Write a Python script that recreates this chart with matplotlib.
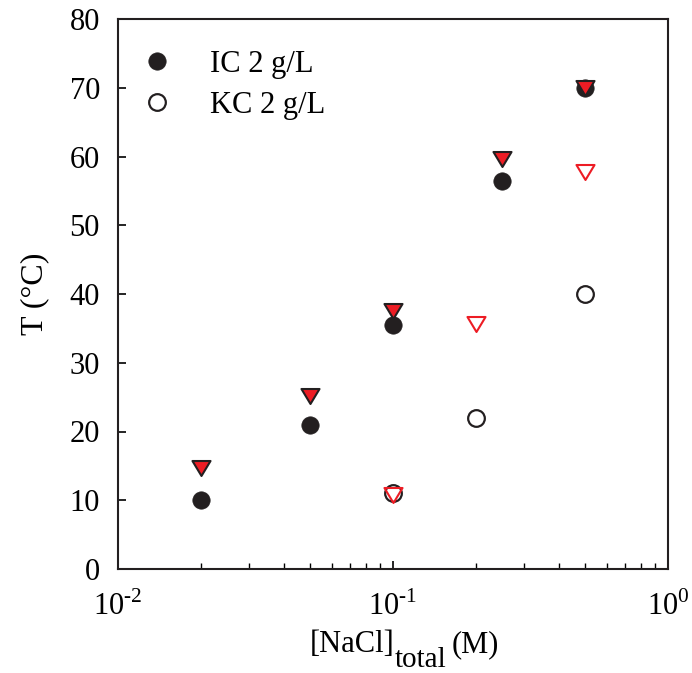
import matplotlib
matplotlib.use("Agg")
import matplotlib.pyplot as plt
from matplotlib.ticker import LogLocator, NullFormatter
from matplotlib.path import Path

plt.rcParams['font.family'] = ['Liberation Serif', 'DejaVu Serif']
plt.rcParams['mathtext.fontset'] = 'custom'
plt.rcParams['mathtext.rm'] = 'Liberation Serif'

# IC 2 g/L
ic_x = [0.02, 0.05, 0.1, 0.25, 0.5]
ic_circle = [10, 21, 35.5, 56.5, 70]
ic_triangle = [14.7, 25.2, 37.6, 59.7, 70]
# KC 2 g/L
kc_x = [0.1, 0.2, 0.5]
kc_circle = [11, 22, 40]
kc_triangle = [10.8, 35.7, 57.7]

xtick_vals = [1e-2, 1e-1, 1e0]
xtick_labels = ['10$^{\\mathregular{\u20102}}$', '10$^{\\mathregular{\u20101}}$', '10$^{\\mathregular{0}}$']
ytick_vals = list(range(0, 81, 10))

BLACK = '#231f20'
RED = '#ed1c24'

tri = Path([(-1, 0.83), (1, 0.83), (0, -0.83), (-1, 0.83)],
           [Path.MOVETO, Path.LINETO, Path.LINETO, Path.CLOSEPOLY])

W, H = 692, 673
fig = plt.figure(figsize=(W / 100, H / 100), dpi=100)
ax = fig.add_axes([118 / W, 1 - 569 / H, (668 - 118) / W, (569 - 19) / H])

ax.plot(ic_x, ic_circle, 'o', ms=12.5, mfc=BLACK, mec=BLACK, mew=0.5, ls='none',
        label='IC 2 g/L', zorder=3)
ax.plot(kc_x, kc_circle, 'o', ms=12, mfc='none', mec=BLACK, mew=1.6, ls='none',
        label='KC 2 g/L', zorder=3)
ax.plot(ic_x, ic_triangle, marker=tri, ms=13, mfc=RED, mec=BLACK, mew=1.5, ls='none', zorder=4)
ax.plot(kc_x, kc_triangle, marker=tri, ms=13, mfc='none', mec=RED, mew=1.5, ls='none', zorder=4)

ax.set_xscale('log')
ax.set_xlim(1e-2, 1e0)
ax.set_ylim(0, 80)
ax.set_yticks(ytick_vals)
ax.set_xticks(xtick_vals)
ax.set_xticklabels(xtick_labels)
ax.xaxis.set_minor_locator(LogLocator(base=10, subs=range(2, 10)))
ax.xaxis.set_minor_formatter(NullFormatter())

ax.tick_params(axis='both', which='major', direction='in', length=6, width=1.2, labelsize=22)
ax.tick_params(axis='y', which='major', pad=13)
ax.tick_params(axis='x', which='major', pad=16)
ax.tick_params(axis='x', which='minor', direction='in', length=4, width=1.0)
ax.tick_params(top=False, right=False, which='both')
for s in ax.spines.values():
    s.set_linewidth(1.5)
    s.set_color(BLACK)

ax.set_ylabel('T (°C)', fontsize=23, labelpad=15)

# x label with large subscript
fig.canvas.draw()
r = fig.canvas.get_renderer()
base_y = 1 - 652 / H
t1 = fig.text(310 / W, base_y, '[NaCl]', fontsize=22, va='baseline', ha='left')
bb1 = t1.get_window_extent(r)
t2 = fig.text(bb1.x1 / W, base_y - 15 / H, 'total', fontsize=21, va='baseline', ha='left')
bb2 = t2.get_window_extent(r)
t3 = fig.text(bb2.x1 / W + 5 / W, base_y, '(M)', fontsize=22, va='baseline', ha='left')

fs = 22
leg = ax.legend(loc='upper left', frameon=False, fontsize=fs, handlelength=1.0,
                handletextpad=1.24, borderpad=0, borderaxespad=0,
                labelspacing=0.4, bbox_to_anchor=(0.043, 0.944))

fig.savefig('out.png', dpi=100)
